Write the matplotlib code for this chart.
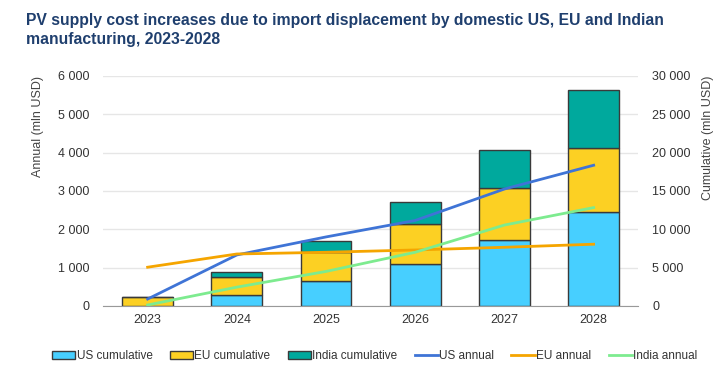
import matplotlib.pyplot as plt
from matplotlib.ticker import FuncFormatter

plt.rcParams['font.family'] = ['Liberation Sans', 'DejaVu Sans']

years = ['2023', '2024', '2025', '2026', '2027', '2028']

# cumulative (mln USD), stacked bars on the right axis
us_cum = [50, 1430, 3260, 5470, 8600, 12200]
eu_cum = [1100, 2310, 3825, 5210, 6730, 8420]
india_cum = [30, 700, 1395, 2910, 4990, 7520]

# annual (mln USD), lines on the left axis
us_annual = [180, 1330, 1800, 2230, 3050, 3670]
eu_annual = [1010, 1355, 1400, 1460, 1530, 1610]
india_annual = [25, 490, 900, 1400, 2110, 2565]

fig = plt.figure(figsize=(7.22, 3.74), dpi=100)
ax = fig.add_axes([0.1427, 0.182, 0.7413, 0.615])
x = list(range(len(years)))

w = 0.57
ec = '#3a3a3a'
b1 = ax.bar(x, us_cum, w, color='#47CFFF', edgecolor=ec, linewidth=1, label='US cumulative', zorder=2)
b2 = ax.bar(x, eu_cum, w, bottom=us_cum, color='#FCD023', edgecolor=ec, linewidth=1,
            label='EU cumulative', zorder=2)
bot = [a + b for a, b in zip(us_cum, eu_cum)]
b3 = ax.bar(x, india_cum, w, bottom=bot, color='#00A99D', edgecolor=ec, linewidth=1,
            label='India cumulative', zorder=2)
ax.set_ylim(0, 30000)
ax.set_xlim(-0.5, 5.5)
ax.grid(axis='y', color='#e6e6e6', linewidth=1, zorder=0)
ax.set_axisbelow(True)

ax2 = ax.twinx()
l1, = ax2.plot(x, us_annual, color='#3F74D6', linewidth=2, label='US annual')
l2, = ax2.plot(x, eu_annual, color='#F5A500', linewidth=2, label='EU annual')
l3, = ax2.plot(x, india_annual, color='#7DEB8F', linewidth=2, label='India annual')
ax2.set_ylim(0, 6000)

# swap sides: bars (cumulative) read on the right, lines (annual) on the left
ax.yaxis.tick_right()
ax.yaxis.set_label_position('right')
ax2.yaxis.tick_left()
ax2.yaxis.set_label_position('left')
ax.set_yticks(range(0, 30001, 5000))
ax2.set_yticks(range(0, 6001, 1000))
ax.set_ylabel('Cumulative (mln USD)', fontsize=9, color='#444444', labelpad=8, loc='top')
ax2.set_ylabel('Annual (mln USD)', fontsize=9, color='#444444', labelpad=10, loc='top')

fmt = FuncFormatter(lambda v, p: f'{int(v):,}'.replace(',', ' '))
for a in (ax, ax2):
    a.yaxis.set_major_formatter(fmt)
    a.tick_params(axis='y', length=0, labelsize=9, colors='#333333', pad=10)
    for s in a.spines.values():
        s.set_visible(False)
ax.spines['bottom'].set_visible(True)
ax.spines['bottom'].set_color('#999999')
ax.set_xticks(x)
ax.set_xticklabels(years)
ax.tick_params(axis='x', length=0, labelsize=9, colors='#333333', pad=6)

fig.legend(handles=[b1, b2, b3, l1, l2, l3], loc='center', bbox_to_anchor=(0.519, 0.048),
           ncol=6, frameon=False, fontsize=8.5, handlelength=2.0, handletextpad=0.1,
           columnspacing=1.45, handleheight=0.6, labelcolor='#333333')

fig.text(0.036, 0.965, 'PV supply cost increases due to import displacement by domestic US, EU and Indian\n'
         'manufacturing, 2023-2028', fontsize=11.3, fontweight='bold', color='#1F3F6E',
         va='top', ha='left', linespacing=1.35)

fig.savefig('out.png', dpi=100, facecolor='white')
